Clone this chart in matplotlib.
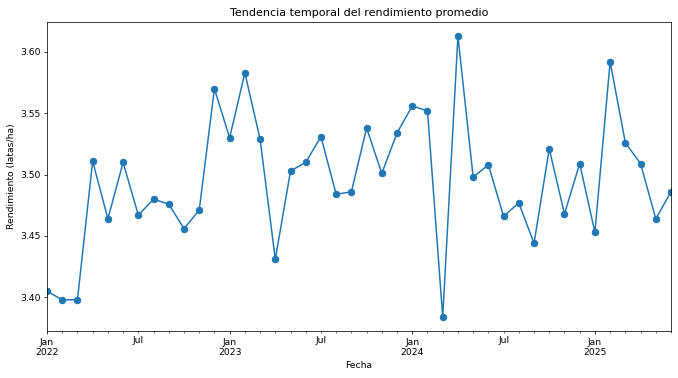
import pandas as pd
from matplotlib import pyplot as plt

start_month = "2022-01-01"
rendimiento = [
    3.405, 3.398, 3.398, 3.511, 3.464, 3.510, 3.467, 3.480, 3.476, 3.456, 3.471, 3.570,
    3.530, 3.583, 3.529, 3.431, 3.503, 3.510, 3.531, 3.484, 3.486, 3.538, 3.501, 3.534,
    3.556, 3.552, 3.384, 3.613, 3.498, 3.508, 3.466, 3.477, 3.444, 3.521, 3.468, 3.509,
    3.453, 3.592, 3.526, 3.509, 3.464, 3.486,
]

fechas = pd.date_range(start_month, periods=len(rendimiento), freq="MS")
serie = pd.Series(rendimiento, index=fechas)

# reference looks like a bigger figure shrunk down, so render at a low dpi
dpi = 67
fig, ax = plt.subplots(figsize=(678 / dpi, 378 / dpi), dpi=dpi)
serie.plot(ax=ax, marker="o", markersize=7, linewidth=1.6, color="#1f77b4")
ax.set_title("Tendencia temporal del rendimiento promedio")
ax.set_xlabel("Fecha")
ax.set_ylabel("Rendimiento (latas/ha)")
fig.subplots_adjust(left=47 / 678, right=671 / 678, top=1 - 22 / 378, bottom=1 - 331 / 378)
fig.savefig("out.png", dpi=dpi)
